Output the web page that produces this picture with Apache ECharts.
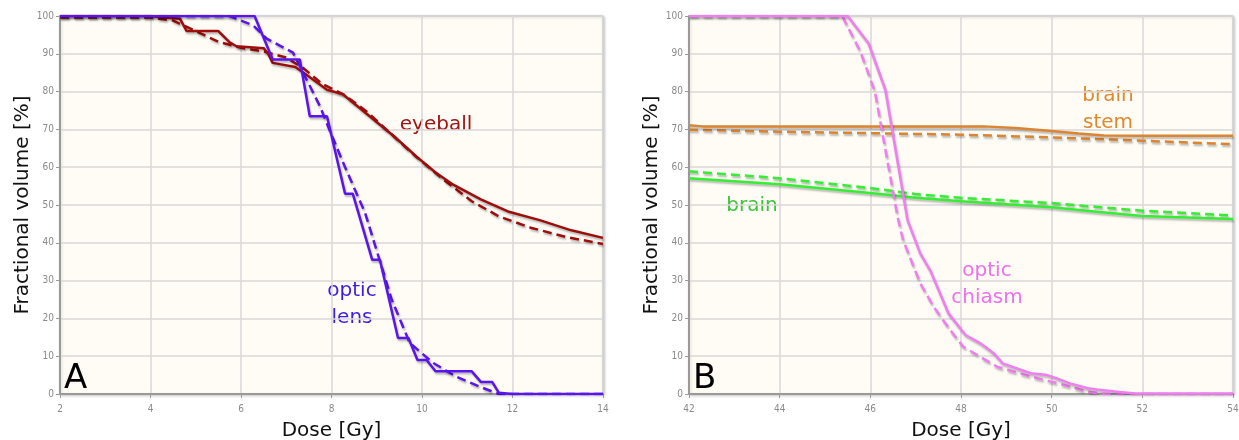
<!DOCTYPE html>
<html>
<head>
<meta charset="utf-8">
<script src="https://cdn.jsdelivr.net/npm/echarts@6/dist/echarts.min.js"></script>
<style>html,body{margin:0;padding:0;background:#fff;}#c{width:1239px;height:440px;}</style>
</head>
<body>
<div id="c"></div>
<script>
// Panel A: dose (Gy) vs fractional volume (%)
var eyeballSolid = [[2,100],[4,100],[4.3,99.6],[4.65,99.3],[4.8,96],[5.5,96],[5.75,93],[5.9,92],[6.5,91.5],[6.6,90],[6.7,87.6],[7.2,86.5],[7.5,84],[7.9,80.5],[8.25,79.3],[8.85,73.4],[9.4,68],[9.88,62.8],[10.3,58.6],[10.7,55.3],[11.3,51.5],[11.9,48.3],[12.6,46],[13.3,43.3],[14,41.3]];
var eyeballDashed = [[2,99.6],[4,99.6],[4.5,98.8],[5,96],[5.5,93.2],[6,91.6],[6.5,90.6],[7,89],[7.4,86],[7.8,82],[8.3,79],[8.8,74.5],[9.3,69],[9.85,63],[10.5,56.5],[11.1,51],[11.7,47],[12.4,44],[13.2,41.5],[14,39.7]];
var lensSolid = [[2,100],[6.3,100],[6.7,88.5],[7.3,88.5],[7.52,73.5],[7.9,73.5],[8.3,53],[8.47,53],[8.9,35.5],[9.07,35.5],[9.47,14.8],[9.7,14.8],[9.9,9],[10.1,9],[10.3,6],[11.1,6],[11.3,3.2],[11.55,3.2],[11.7,0.3],[12,0],[14,0]];
var lensDashed = [[2,100],[5.75,100],[6.27,97.5],[6.57,94],[7.15,90.3],[7.5,82],[7.75,76],[7.95,70],[8.3,60],[8.74,48],[9.33,25],[9.73,13.5],[10.25,8.2],[10.77,4.5],[11.28,1.9],[11.7,0],[14,0]];
// Panel B
var stemSolid = [[42,71.1],[42.3,70.8],[44,70.8],[46,70.8],[48.5,70.8],[49.2,70.4],[50,69.6],[50.6,68.9],[51.15,68.4],[52,68.3],[54,68.3]];
var stemDashed = [[42,69.9],[44,69.4],[46,69.0],[48,68.6],[50,67.9],[52,67.0],[54,66.1]];
var brainSolid = [[42,57.1],[44,55.5],[46,53.2],[47,51.9],[48,51],[50,49.4],[51,48.2],[52,47.1],[54,46.3]];
var brainDashed = [[42,58.9],[44,57.1],[46,54.5],[47,52.9],[48,51.9],[50,50.5],[52,48.5],[54,47.2]];
var chiasmSolid = [[42,100],[45.5,100],[45.96,92.8],[46.33,80.5],[46.82,46],[47.1,37.2],[47.33,32.5],[47.72,21.4],[48.1,15.6],[48.43,13.4],[48.72,10.8],[48.92,8.1],[49.54,5.5],[49.9,5.0],[50.1,4.2],[50.4,2.8],[50.8,1.5],[51.0,1.2],[51.5,0.5],[51.9,0.1],[54,0.1]];
var chiasmDashed = [[42,100],[45.38,100],[45.78,90.6],[46.1,80],[46.6,46.9],[46.72,40.8],[47.1,29.3],[47.4,23],[47.77,16.8],[48.05,12.5],[48.8,7.2],[49.54,4.6],[50.27,2.4],[50.8,0.6],[51.15,0],[54,0]];

var yTicks = [0,10,20,30,40,50,60,70,80,90,100];
var xTicksA = [2,4,6,8,10,12,14];
var xTicksB = [42,44,46,48,50,52,54];

var chart = echarts.init(document.getElementById('c'), null, {renderer:'canvas'});
var FONT = 'DejaVu Sans';
function xAxis(idx, ticks){
  return {type:'value', gridIndex:idx, min:ticks[0], max:ticks[ticks.length-1], interval:2,
    name:'Dose [Gy]', nameLocation:'middle', nameGap:27,
    nameTextStyle:{fontFamily:FONT, fontSize:20, color:'#111'},
    axisLine:{show:true, lineStyle:{color:'#9a9a9a', width:2}},
    axisTick:{show:true, length:4, lineStyle:{color:'#9a9a9a'}},
    axisLabel:{fontFamily:'Liberation Sans Narrow, DejaVu Sans Condensed, sans-serif', fontSize:10, color:'#8a8a8a', margin:10},
    splitLine:{show:true, lineStyle:{color:'#d8d8d8', width:1.5}}};
}
function yAxis(idx){
  return {type:'value', gridIndex:idx, min:0, max:100, interval:10,
    name:'Fractional volume [%]', nameLocation:'middle', nameGap:27, nameRotate:90,
    nameTextStyle:{fontFamily:FONT, fontSize:20, color:'#111'},
    axisLine:{show:true, lineStyle:{color:'#9a9a9a', width:2}},
    axisTick:{show:true, length:4, lineStyle:{color:'#9a9a9a'}},
    axisLabel:{fontFamily:'Liberation Sans Narrow, DejaVu Sans Condensed, sans-serif', fontSize:10, color:'#8a8a8a', margin:6},
    splitLine:{show:true, lineStyle:{color:'#d8d8d8', width:1.5}}};
}
function ser(name, data, color, dashed, gi){
  return {name:name, type:'line', xAxisIndex:gi, yAxisIndex:gi, data:data, showSymbol:false, symbol:'none',
    silent:true, animation:false,
    lineStyle:{color:color, width:2.5, type: dashed ? [9,5] : 'solid',
      shadowColor:'rgba(0,0,0,0.28)', shadowBlur:2, shadowOffsetX:1, shadowOffsetY:2}};
}
function label(txt, cx, top, color){
  return {type:'text', x:cx, y:top, style:{text:txt, fontFamily:FONT, fontSize:20, fill:color,
    align:'center', verticalAlign:'top', lineHeight:27}};
}
var gridCommon = {show:true, containLabel:false, outerBoundsMode:'none', backgroundColor:'#fefcf4', borderColor:'#aaaaaa', borderWidth:1,
  shadowColor:'rgba(0,0,0,0.25)', shadowBlur:3, shadowOffsetX:1, shadowOffsetY:1};
chart.setOption({
  backgroundColor:'#ffffff',
  animation:false,
  grid:[Object.assign({left:60, right:636, top:16, bottom:46}, gridCommon),
        Object.assign({left:689, right:6, top:16, bottom:46}, gridCommon)],
  xAxis:[xAxis(0, xTicksA), xAxis(1, xTicksB)],
  yAxis:[yAxis(0), yAxis(1)],
  series:[
    ser('eyeball dashed', eyeballDashed, '#9e0c0c', true, 0),
    ser('eyeball', eyeballSolid, '#9e0c0c', false, 0),
    ser('optic lens dashed', lensDashed, '#5a14f0', true, 0),
    ser('optic lens', lensSolid, '#5a14f0', false, 0),
    ser('brain stem dashed', stemDashed, '#dc8430', true, 1),
    ser('brain stem', stemSolid, '#dc8430', false, 1),
    ser('brain dashed', brainDashed, '#33ee33', true, 1),
    ser('brain', brainSolid, '#33ee33', false, 1),
    ser('optic chiasm dashed', chiasmDashed, '#f07ef0', true, 1),
    ser('optic chiasm', chiasmSolid, '#f07ef0', false, 1)
  ],
  graphic:[
    {type:'text', x:64, y:362, style:{text:'A', fontFamily:FONT, fontSize:34, fill:'#000', verticalAlign:'top'}},
    {type:'text', x:693, y:362, style:{text:'B', fontFamily:FONT, fontSize:34, fill:'#000', verticalAlign:'top'}},
    label('eyeball', 436, 111, '#a01414'),
    label('optic\nlens', 352, 277, '#3d1ee0'),
    label('brain\nstem', 1108, 82, '#e0882e'),
    label('brain', 752, 192, '#3cc43c'),
    label('optic\nchiasm', 987, 257, '#ee70ee')
  ]
});
</script>
</body>
</html>
